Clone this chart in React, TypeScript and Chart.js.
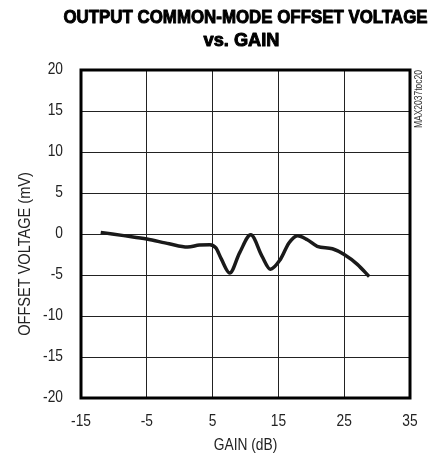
import React, { useEffect, useRef } from "react";
import { Chart, registerables } from "chart.js";

Chart.register(...registerables);

const TITLE_LINES = ["OUTPUT COMMON-MODE OFFSET VOLTAGE", "vs. GAIN"];
const X_TITLE = "GAIN (dB)";
const Y_TITLE = "OFFSET VOLTAGE (mV)";
const NOTE = "MAX2037toc20";

const gainDb = [-12, -8.5, -5, -1.6, 1.2, 3.0, 4.6, 5.5, 6.3, 7.6, 9.1, 10.8, 12.5, 13.8, 15.3, 16.6, 17.9, 19.4, 20.9, 23.2, 25.0, 27.0, 28.8];
const offsetMv = [0.2, -0.2, -0.6, -1.2, -1.6, -1.35, -1.3, -1.7, -3.0, -4.75, -2.3, -0.1, -2.7, -4.3, -3.1, -1.1, -0.2, -0.7, -1.5, -1.8, -2.5, -3.7, -5.2];

const X_MIN = -15, X_MAX = 35, X_STEP = 10;
const Y_MIN = -20, Y_MAX = 20, Y_STEP = 5;

const FONT = "'Liberation Sans', Arial, sans-serif";
const SQUEEZE = 0.86;

function squeezedText(ctx: any, text: string, x: number, y: number, sx: number, align: string, stroke = 0) {
  ctx.save();
  ctx.translate(x, y);
  ctx.scale(sx, 1);
  ctx.textAlign = align;
  if (stroke > 0) {
    ctx.lineWidth = stroke;
    ctx.strokeStyle = ctx.fillStyle;
    ctx.lineJoin = "round";
    ctx.strokeText(text, 0, 0);
  }
  ctx.fillText(text, 0, 0);
  ctx.restore();
}

function fitText(ctx: any, text: string, x: number, y: number, width: number, stroke = 0) {
  const w = ctx.measureText(text).width + stroke;
  squeezedText(ctx, text, x, y, width / w, "center", stroke);
}

const decorPlugin = {
  id: "decor",
  afterDatasetsDraw(chart: any) {
    const { ctx, chartArea, scales } = chart;
    const { left, right, top, bottom } = chartArea;
    ctx.save();
    // frame
    ctx.strokeStyle = "#000";
    ctx.lineWidth = 3;
    ctx.strokeRect(left, top, right - left, bottom - top);
    // title
    ctx.fillStyle = "#000";
    ctx.textBaseline = "middle";
    ctx.font = `bold 19px ${FONT}`;
    const cx = (left + right) / 2;
    fitText(ctx, TITLE_LINES[0], cx, 17.5, 365, 1);
    fitText(ctx, TITLE_LINES[1], 241.5, 40.5, 77, 1);
    // tick labels
    ctx.font = `16px ${FONT}`;
    ctx.fillStyle = "#222";
    for (const t of scales.x.ticks) {
      const px = scales.x.getPixelForValue(t.value);
      squeezedText(ctx, String(t.value), px, 422, SQUEEZE, "center");
    }
    for (const t of scales.y.ticks) {
      const py = scales.y.getPixelForValue(t.value);
      squeezedText(ctx, String(t.value), 63, py, SQUEEZE, "right");
    }
    // y title
    ctx.save();
    ctx.translate(26, 254);
    ctx.rotate(-Math.PI / 2);
    squeezedText(ctx, Y_TITLE, 0, 0, 0.91, "center");
    ctx.restore();
    // x title
    squeezedText(ctx, X_TITLE, cx, 446, SQUEEZE, "center");
    // note
    ctx.save();
    ctx.translate(419, top);
    ctx.rotate(-Math.PI / 2);
    ctx.font = `10px ${FONT}`;
    ctx.fillStyle = "#333";
    squeezedText(ctx, NOTE, 0, 0, 0.85, "right");
    ctx.restore();
    ctx.restore();
  },
};

export default function App() {
  const ref = useRef<HTMLCanvasElement>(null);
  useEffect(() => {
    if (!ref.current) return;
    const chart = new Chart(ref.current, {
      type: "line",
      data: {
        datasets: [
          {
            data: gainDb.map((x, i) => ({ x, y: offsetMv[i] })),
            borderColor: "#1a1a1a",
            borderWidth: 3.5,
            pointRadius: 0,
            cubicInterpolationMode: "monotone",
            fill: false,
          },
        ],
      },
      options: {
        animation: false,
        responsive: false,
        devicePixelRatio: 1,
        layout: { padding: { top: 70, right: 23, left: 0, bottom: 0 } },
        plugins: { legend: { display: false }, tooltip: { enabled: false }, title: { display: false } },
        scales: {
          x: {
            type: "linear",
            min: X_MIN,
            max: X_MAX,
            ticks: { stepSize: X_STEP, display: false },
            grid: { color: "#222", lineWidth: 1, drawTicks: false },
            border: { display: false },
            afterFit: (s: any) => { s.height = 63; },
          },
          y: {
            type: "linear",
            min: Y_MIN,
            max: Y_MAX,
            ticks: { stepSize: Y_STEP, display: false },
            grid: { color: "#222", lineWidth: 1, drawTicks: false },
            border: { display: false },
            afterFit: (s: any) => { s.width = 81; },
          },
        },
      },
      plugins: [decorPlugin],
    });
    return () => chart.destroy();
  }, []);
  return (
    <div style={{ position: "fixed", left: 0, top: 0, width: 433, height: 461, background: "#fff" }}>
      <canvas ref={ref} width={433} height={461} style={{ width: 433, height: 461 }} />
    </div>
  );
}
